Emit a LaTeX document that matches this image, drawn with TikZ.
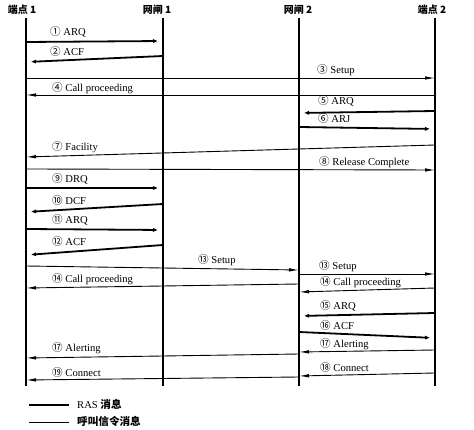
\documentclass[tikz,border=0pt]{standalone}
\usepackage{fontspec}
\setmainfont{Liberation Serif}
\newfontfamily\cjk{Noto Sans CJK SC}
\usetikzlibrary{arrows.meta}
\newcommand\cn[1]{{\cjk #1}}
\newcommand\msg[6]{\coordinate (#2a) at (#3,#4); \coordinate (#2b) at (#5,#6); \draw[#1] (#2a) -- (#2b);}
\tikzset{
  ras/.style={line width=1.8pt,-{Latex[length=10pt,width=3.5pt]}},
  sig/.style={line width=0.9pt,-{Latex[length=10pt,width=3.5pt]}},
  life/.style={line width=1.1pt},
  lbl/.style={anchor=west,inner sep=0pt,font=\fontsize{10.6}{12}\selectfont},
  head/.style={inner sep=0pt,font=\cjk\bfseries\fontsize{10}{11}\selectfont},
}
\begin{document}
\begin{tikzpicture}[x=1pt,y=-1pt]
\useasboundingbox (0,0) rectangle (474,430);
% heads
\node[head] (h1) at (22,10) {端点 1};
\node[head] (h2) at (157,10) {网闸 1};
\node[head] (h3) at (298,10) {网闸 2};
\node[head] (h4) at (432,10) {端点 2};
\coordinate (t1) at (26,18); \coordinate (b1) at (26,386);
\coordinate (t2) at (163,18); \coordinate (b2) at (163,386);
\coordinate (t3) at (299,18); \coordinate (b3) at (299,386);
\coordinate (t4) at (435,18); \coordinate (b4) at (435,386);
\draw[life] (t1) -- (b1);
\draw[life] (t2) -- (b2);
\draw[life] (t3) -- (b3);
\draw[life] (t4) -- (b4);
% messages
\msg{ras}{m1}{26}{42}{163}{41}
\node[lbl] (l1) at (50,32) {\cn{①} ARQ};
\msg{ras}{m2}{163}{56}{26}{62}
\node[lbl] (l2) at (50,51) {\cn{②} ACF};
\msg{sig}{m3}{26}{78}{435}{78}
\node[lbl] (l3) at (317,70) {\cn{③} Setup};
\msg{sig}{m4}{435}{95}{26}{95}
\node[lbl] (l4) at (52,88) {\cn{④} Call proceeding};
\msg{ras}{m5}{435}{111}{299}{113}
\node[lbl] (l5) at (318,101) {\cn{⑤} ARQ};
\msg{ras}{m6}{299}{127}{435}{129}
\node[lbl] (l6) at (318,118) {\cn{⑥} ARJ};
\msg{sig}{m7}{435}{145}{26}{157}
\node[lbl] (l7) at (52,147) {\cn{⑦} Facility};
\msg{sig}{m8}{26}{169}{435}{170}
\node[lbl] (l8) at (319,162) {\cn{⑧} Release Complete};
\msg{ras}{m9}{26}{188}{163}{188}
\node[lbl] (l9) at (52,179) {\cn{⑨} DRQ};
\msg{ras}{m10}{163}{204}{26}{212}
\node[lbl] (l10) at (52,200) {\cn{⑩} DCF};
\msg{ras}{m11}{26}{229}{163}{230}
\node[lbl] (l11) at (52,220) {\cn{⑪} ARQ};
\msg{ras}{m12}{163}{245}{26}{255}
\node[lbl] (l12) at (52,241) {\cn{⑫} ACF};
\msg{sig}{m13}{26}{266}{299}{270}
\node[lbl] (l13) at (198,260) {\cn{⑬} Setup};
\msg{sig}{m13r}{299}{274}{435}{274}
\node[lbl] (l13r) at (319,266) {\cn{⑬} Setup};
\msg{sig}{m14r}{435}{288}{299}{292}
\node[lbl] (l14r) at (320,282) {\cn{⑭} Call proceeding};
\msg{sig}{m14}{299}{284}{26}{288}
\node[lbl] (l14) at (52,279) {\cn{⑭} Call proceeding};
\msg{ras}{m15}{435}{313}{299}{316}
\node[lbl] (l15) at (320,306) {\cn{⑮} ARQ};
\msg{ras}{m16}{299}{332}{435}{338}
\node[lbl] (l16) at (320,325) {\cn{⑯} ACF};
\msg{sig}{m17r}{435}{350}{299}{352}
\node[lbl] (l17r) at (320,344) {\cn{⑰} Alerting};
\msg{sig}{m17}{299}{354}{26}{358}
\node[lbl] (l17) at (52,348) {\cn{⑰} Alerting};
\msg{sig}{m18}{435}{373}{299}{376}
\node[lbl] (l18) at (320,367) {\cn{⑱} Connect};
\msg{sig}{m19}{299}{377}{26}{380}
\node[lbl] (l19) at (52,372) {\cn{⑲} Connect};
% legend
\coordinate (ga) at (29,405); \coordinate (gb) at (69,405);
\draw[line width=1.8pt] (ga) -- (gb);
\node[lbl] (g1) at (77,404) {RAS {\cjk\bfseries 消息}};
\coordinate (gc) at (29,422); \coordinate (gd) at (69,422);
\draw[line width=0.9pt] (gc) -- (gd);
\node[lbl] (g2) at (77,421) {\cjk\bfseries 呼叫信令消息};
\end{tikzpicture}
\end{document}
